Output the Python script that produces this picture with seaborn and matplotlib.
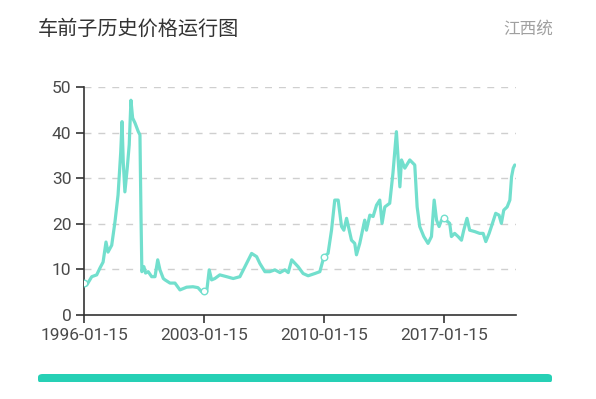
import matplotlib
matplotlib.use("Agg")
import matplotlib.pyplot as plt
from matplotlib.patches import FancyBboxPatch, Rectangle
import seaborn as sns
import pandas as pd

title = "车前子历史价格运行图"
source = "江西统"
tick_dates = ["1996-01-15", "2003-01-15", "2010-01-15", "2017-01-15"]
marker_values = [7.0, 5.2, 12.7, 21.2]
y_ticks = [0, 10, 20, 30, 40, 50]

dates = [
    "1996-01-15", "1996-03-15", "1996-06-28", "1996-10-12", "1996-12-20",
    "1997-02-25", "1997-04-28", "1997-06-10", "1997-08-28", "1997-11-05",
    "1998-01-10", "1998-03-08", "1998-04-05", "1998-05-01", "1998-06-05",
    "1998-07-25", "1998-09-05", "1998-10-12", "1998-11-17", "1999-01-07",
    "1999-03-18", "1999-04-22", "1999-05-15", "1999-06-02", "1999-07-15",
    "1999-08-20", "1999-10-15", "1999-12-28", "2000-03-08", "2000-05-05",
    "2000-06-22", "2000-09-01", "2000-10-08", "2001-01-22", "2001-05-08",
    "2001-08-22", "2002-01-12", "2002-05-26", "2002-09-10", "2002-11-28",
    "2003-01-15", "2003-03-15", "2003-05-08", "2003-06-28", "2003-09-05",
    "2003-12-20", "2004-05-15", "2004-10-01", "2005-02-20", "2005-07-12",
    "2005-10-28", "2006-02-12", "2006-04-22", "2006-08-08", "2006-11-20",
    "2007-03-08", "2007-06-25", "2007-10-08", "2007-12-18", "2008-03-01",
    "2008-07-15", "2008-10-30", "2009-02-15", "2009-07-08", "2009-10-22",
    "2010-01-15", "2010-04-15", "2010-06-28", "2010-09-05", "2010-11-17",
    "2011-01-28", "2011-03-18", "2011-05-15", "2011-08-28", "2011-11-05",
    "2011-12-12", "2012-02-20", "2012-06-05", "2012-07-12", "2012-09-22",
    "2012-12-01", "2013-02-12", "2013-04-22", "2013-06-10", "2013-08-08",
    "2013-11-20", "2014-01-28", "2014-04-12", "2014-06-25", "2014-07-30",
    "2014-10-08", "2015-01-22", "2015-05-08", "2015-06-28", "2015-08-22",
    "2015-11-17", "2016-02-15", "2016-04-28", "2016-06-25", "2016-08-15",
    "2016-10-08", "2016-11-28", "2017-01-15", "2017-05-22", "2017-06-28",
    "2017-09-05", "2017-11-17", "2018-01-28", "2018-03-18", "2018-05-26",
    "2018-07-22", "2018-11-05", "2019-02-20", "2019-05-05", "2019-07-01",
    "2019-09-10", "2019-11-20", "2020-01-28", "2020-04-08", "2020-05-28",
    "2020-07-18", "2020-09-28", "2020-11-25", "2020-12-31", "2021-02-05",
    "2021-03-10",
]
prices = [
    7.0, 6.6, 8.4, 8.8, 10.3,
    11.6, 16.0, 13.8, 15.3, 20.4,
    26.3, 35.7, 42.4, 33.6, 27.0,
    32.2, 37.3, 47.1, 43.2, 42.1,
    40.2, 39.5, 21.3, 9.5, 10.6,
    9.2, 9.5, 8.4, 8.4, 12.1,
    9.9, 8.0, 7.7, 7.0, 7.0,
    5.5, 6.1, 6.2, 6.0, 5.1,
    5.2, 5.1, 9.9, 7.7, 8.0,
    8.8, 8.4, 8.0, 8.4, 11.3,
    13.5, 12.8, 11.3, 9.5, 9.5,
    9.9, 9.3, 9.9, 9.3, 12.1,
    10.6, 9.1, 8.6, 9.1, 9.5,
    12.7, 13.5, 18.6, 25.2, 25.2,
    19.4, 18.6, 21.2, 16.4, 15.7,
    13.2, 15.7, 20.8, 18.6, 21.9,
    21.6, 24.1, 25.2, 20.1, 23.7,
    24.5, 31.1, 40.2, 28.1, 34.0,
    32.2, 34.0, 32.9, 23.7, 19.4,
    17.2, 15.7, 17.2, 25.2, 20.8,
    19.4, 20.8, 21.2, 20.1, 17.2,
    17.9, 17.2, 16.4, 18.6, 21.2,
    18.6, 18.3, 17.9, 17.9, 16.1,
    17.9, 20.1, 22.3, 21.9, 20.1,
    23.0, 23.7, 25.2, 30.3, 32.2,
    32.9,
]

sns.set_theme(style="white")
plt.rcParams["font.family"] = ["Roboto", "Noto Sans CJK SC", "DejaVu Sans"]

df = pd.DataFrame({"date": pd.to_datetime(dates), "price": prices})
mk = pd.DataFrame({"date": pd.to_datetime(tick_dates), "price": marker_values})

line_color = "#72dfcd"
fig = plt.figure(figsize=(5.96, 3.99), dpi=100)
fig.patch.set_facecolor("white")
ax = fig.add_axes([84 / 596, 1 - 315 / 399, (516 - 84) / 596, (315 - 87) / 399])

for v in y_ticks[1:]:
    ax.axhline(v, color="#cfcfcf", lw=1.0, ls=(0, (5, 5)), zorder=0)

sns.lineplot(data=df, x="date", y="price", ax=ax, color=line_color,
             linewidth=2.3, zorder=3)
sns.scatterplot(data=mk, x="date", y="price", ax=ax, s=22, color="white",
                edgecolor=line_color, linewidth=1.0, zorder=4)

ax.set_xlim(pd.Timestamp("1996-01-15"), pd.Timestamp("2021-04-05"))
ax.set_ylim(0, 50)
ax.set_yticks(y_ticks)
ax.set_xticks(pd.to_datetime(tick_dates))
ax.set_xticklabels(tick_dates)
ax.set_xlabel("")
ax.set_ylabel("")
for s in ["top", "right"]:
    ax.spines[s].set_visible(False)
for s in ["left", "bottom"]:
    ax.spines[s].set_color("#333333")
    ax.spines[s].set_linewidth(1.2)
ax.tick_params(axis="both", which="major", direction="out", length=5.5,
               width=1.2, color="#333333", labelsize=12.5, labelcolor="#4a4a4a",
               pad=3.5, left=True, bottom=True)
ax.set_facecolor("white")

fig.text(38 / 596, 1 - 29 / 399, title, fontsize=14.5, color="#333333",
         va="center", ha="left", family=["Noto Sans CJK SC", "DejaVu Sans"])
fig.text(553 / 596, 1 - 29 / 399, source, fontsize=12, color="#a0a0a0",
         va="center", ha="right", family=["Noto Sans CJK SC", "DejaVu Sans"])

bar = FancyBboxPatch((38 / 596, 1 - 383 / 399), (552 - 38) / 596, 9 / 399,
                     boxstyle="round,pad=0,rounding_size=0.008",
                     transform=fig.transFigure, facecolor="#26d0b5",
                     edgecolor="none")
fig.patches.append(bar)
fig.patches.append(Rectangle((0, 0), 1, 1 - 381.5 / 399, transform=fig.transFigure,
                             facecolor="white", edgecolor="none"))

fig.savefig("out.png", dpi=100, facecolor="white")
